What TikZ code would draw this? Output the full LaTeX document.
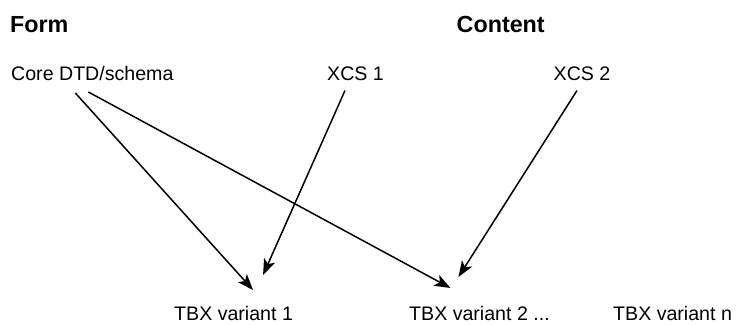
\documentclass[tikz,border=0pt]{standalone}
\usepackage{fontspec}
\setmainfont{Liberation Sans}
\usetikzlibrary{arrows.meta}

\begin{document}
\begin{tikzpicture}[x=1pt, y=-1pt,
    lbl/.style={anchor=base west, inner sep=0pt, font=\fontsize{19.6}{22}\selectfont},
    head/.style={anchor=base west, inner sep=0pt, font=\fontsize{23.3}{26}\selectfont\bfseries},
    arr/.style={line width=1.5pt, -{Stealth[length=16pt,width=12pt,inset=4pt]}}]

\useasboundingbox (0,0) rectangle (736,324);

% headings
\node[head] (form) at (10,32.5) {Form};
\node[head] (content) at (456.5,32.5) {Content};

% sources
\node[lbl] (core) at (11,80) {Core DTD/schema};
\node[lbl, anchor=base] (xcs1) at (355.5,80.5) {XCS 1};
\node[lbl, anchor=base] (xcs2) at (582,80.5) {XCS 2};

% variants
\node[lbl] (tbx1) at (174,320) {TBX variant 1};
\node[lbl] (tbx2) at (409,320) {TBX variant 2 ...};
\node[lbl] (tbxn) at (613,320) {TBX variant n};

\draw[arr] ([xshift=-17pt,yshift=-13pt]core.base) -- ([xshift=19.5pt,yshift=30pt]tbx1.base);
\draw[arr] ([xshift=-4pt,yshift=-12pt]core.base) -- ([xshift=-29pt,yshift=32pt]tbx2.base);
\draw[arr] ([xshift=-10.5pt,yshift=-10pt]xcs1.base) -- ([xshift=29.5pt,yshift=45pt]tbx1.base);
\draw[arr] ([xshift=-5pt,yshift=-10pt]xcs2.base) -- ([xshift=-21pt,yshift=43pt]tbx2.base);

\end{tikzpicture}
\end{document}
